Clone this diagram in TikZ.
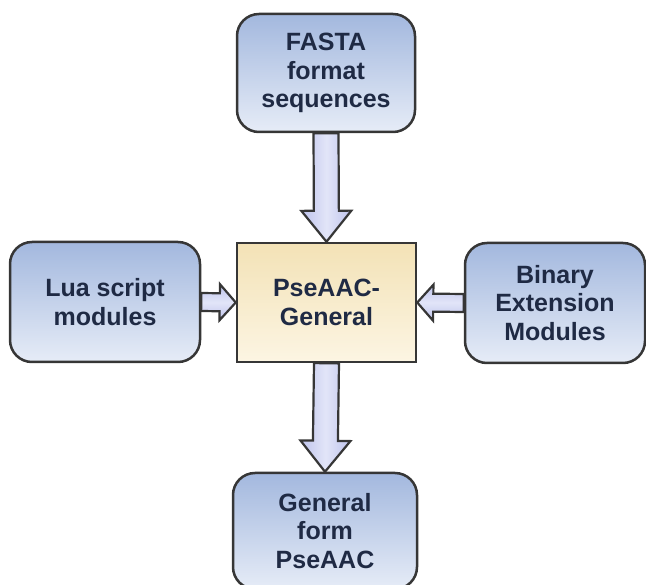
\documentclass[tikz,border=0pt]{standalone}
\usepackage{fontspec}
\setmainfont{Liberation Sans}
\usepackage{xcolor}
\usepackage{tikz}
\usetikzlibrary{calc,positioning}

\definecolor{boxtop}{HTML}{A3B8DE}
\definecolor{boxbot}{HTML}{E6ECF7}
\definecolor{coretop}{HTML}{F3E2B6}
\definecolor{corebot}{HTML}{FCF5E3}
\definecolor{arrowside}{HTML}{BEC3EC}
\definecolor{arrowmid}{HTML}{E2E5F8}
\definecolor{edge}{HTML}{363636}
\definecolor{ink}{HTML}{1F2A44}

% block arrow: style, from, to, shaft half width, head half width, head length
\newcommand{\blockarrow}[6]{%
  \coordinate (ba-h) at ($(#3)!#6!(#2)$);
  \draw[arrowline,#1] ($(#2)!#4!90:(#3)$) -- ($(ba-h)!#4!-90:(#2)$)
    -- ($(ba-h)!#5!-90:(#2)$) -- (#3) -- ($(ba-h)!#5!90:(#2)$)
    -- ($(ba-h)!#4!90:(#2)$) -- ($(#2)!#4!-90:(#3)$) -- cycle;}

\tikzset{
  box/.style={draw=edge, line width=2.5pt, rounded corners=22pt, top color=boxtop, bottom color=boxbot,
    text=ink, align=center, font=\fontsize{25}{28.5}\selectfont\bfseries, inner sep=0pt},
  corebox/.style={box, rounded corners=0pt, top color=coretop, bottom color=corebot},
  arrowline/.style={draw=edge, line width=2.2pt, line join=miter},
  vert/.style={left color=arrowside, right color=arrowside, middle color=arrowmid},
  horiz/.style={top color=arrowside, bottom color=arrowside, middle color=arrowmid}
}

\begin{document}
\begin{tikzpicture}[x=1pt, y=-1pt]
    \useasboundingbox (0,0) rectangle (646,585);

    % Boxes
    \node[box, minimum width=178pt, minimum height=118pt] (fasta) at (326,73) {FASTA\\format\\sequences};
    \node[corebox, minimum width=179pt, minimum height=119pt] (core) at (326.5,302.5) {PseAAC-\\General};
    \node[box, minimum width=190pt, minimum height=120pt] (lua) at (105,302) {Lua script\\modules};
    \node[box, minimum width=180pt, minimum height=120pt] (binary) at (555,303) {Binary\\Extension\\Modules};
    \node[box, minimum width=184pt, minimum height=116pt] (general) at (325,531) {General\\form\\PseAAC};

    % Arrows
    \blockarrow{vert}{fasta.south}{core.north}{12.5pt}{25pt}{31pt}
    \blockarrow{vert}{core.south}{general.north}{12.5pt}{25pt}{31pt}
    \blockarrow{horiz}{lua.east}{core.west}{9pt}{18pt}{16pt}
    \blockarrow{horiz}{binary.west}{core.east}{9pt}{18pt}{16pt}
\end{tikzpicture}
\end{document}
